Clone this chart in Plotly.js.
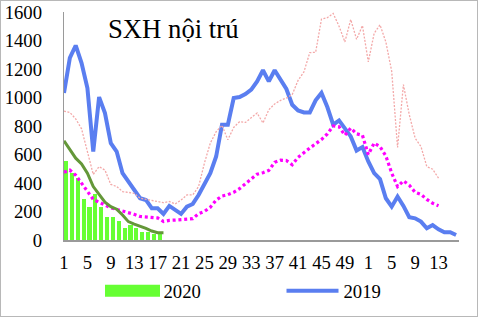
<!DOCTYPE html>
<html><head><meta charset="utf-8">
<script src="https://cdn.plot.ly/plotly-3.0.1.min.js"></script>
<style>
html,body{margin:0;padding:0;background:#fff}
#wrap{position:relative;width:479px;height:318px}
#chart{width:479px;height:318px}
#frame{position:absolute;left:0;top:0;width:476px;height:315px;border:1.5px solid #b8b8b8;pointer-events:none}
</style>
</head><body>
<div id="wrap"><div id="chart"></div><div id="frame"></div></div>
<script>
// week labels along the category axis (2019 weeks 1-52, then 2020 weeks 1-16)
var weeks = [1,2,3,4,5,6,7,8,9,10,11,12,13,14,15,16,17,18,19,20,21,22,23,24,25,26,
  27,28,29,30,31,32,33,34,35,36,37,38,39,40,41,42,43,44,45,46,47,48,49,50,51,52,
  1,2,3,4,5,6,7,8,9,10,11,12,13,14,15,16];

// 2020 inpatients (bars)
var bars2020 = [556,470,438,290,235,320,235,160,160,130,86,106,86,58,58,42,46];
// 2020 line (dark green)
var line2020 = [696,638,574,534,469,375,316,265,234,216,176,129,112,98,82,63,51,51];
// 2019 (blue)
var blue2019 = [1032,1278,1365,1242,1067,621,1003,891,680,621,469,410,352,293,281,223,223,183,
  239,211,183,234,253,316,387,469,586,809,809,996,1003,1024,1055,1113,1191,1113,1191,1120,
  1060,949,909,895,895,980,1032,933,809,839,778,727,628,652,551,469,427,293,234,305,239,160,
  152,129,82,105,75,54,54,35];
// average (magenta dotted)
var avgSeries = [475,490,455,395,335,285,265,245,225,215,205,195,180,165,160,160,155,130,138,
  140,142,145,150,185,200,230,280,308,318,335,360,395,430,462,472,488,545,560,558,528,580,615,
  645,675,705,745,800,795,735,785,745,735,600,680,655,590,470,375,415,385,335,320,285,258,240];
// maximum (light red dotted)
var maxSeries = [905,895,850,780,620,460,515,490,390,375,340,333,328,293,287,278,270,262,270,
  253,280,316,316,375,540,680,760,805,703,790,830,825,860,891,821,914,955,980,996,1020,1120,
  1180,1315,1317,1550,1560,1590,1500,1390,1547,1408,1505,1250,1450,1510,1390,1184,650,1090,
  880,715,656,515,497,434];

function idx(arr){ return arr.map(function(_, i){ return i; }); }
var tickvals = idx(weeks).filter(function(i){ return i % 4 === 0; });
var ticktext = tickvals.map(function(i){ return String(weeks[i]); });

var SERIF = 'Liberation Serif, Times New Roman, serif';

var data = [
  {type:'bar', name:'2020', x:idx(bars2020), y:bars2020, marker:{color:'#66ff33'},
   width:0.72, offset:0, showlegend:true, legend:'legend'},
  {type:'scatter', mode:'lines', name:'2019', x:idx(blue2019), y:blue2019,
   line:{color:'#5a7ef0', width:4}, legend:'legend2'},
  {type:'scatter', mode:'lines', name:'Max', x:idx(maxSeries), y:maxSeries,
   line:{color:'#f3a8a8', width:1.3, dash:'2px,1.5px'}, showlegend:false},
  {type:'scatter', mode:'lines', name:'TB', x:idx(avgSeries), y:avgSeries,
   line:{color:'#ff00ff', width:3.2, dash:'3px,2.8px'}, showlegend:false},
  {type:'scatter', mode:'lines', name:'2020 ', x:idx(line2020), y:line2020,
   line:{color:'#649739', width:3}, showlegend:false}
];

var legendBase = {orientation:'h', xref:'container', yref:'container', xanchor:'left', yanchor:'top',
  y:1-272/318, font:{size:18.7, family:SERIF, color:'#000'}, itemwidth:52,
  bgcolor:'rgba(0,0,0,0)', borderwidth:0};

var layout = {
  width:479, height:318,
  margin:{l:64, r:20, t:12, b:78, pad:0},
  paper_bgcolor:'#ffffff', plot_bgcolor:'#ffffff',
  font:{family:SERIF, size:18.7, color:'#000'},
  title:{text:'SXH nội trú', font:{size:26.7, family:SERIF, color:'#000'},
         x:108/479, xanchor:'left', xref:'container', y:1-29/318, yanchor:'middle', yref:'container'},
  xaxis:{range:[0,67.5], tickmode:'array', tickvals:tickvals, ticktext:ticktext, tickangle:0,
         tickfont:{family:SERIF, size:18.7, color:'#000'},
         showgrid:false, zeroline:false, showline:true, linecolor:'#9a9a9a', linewidth:1.5,
         ticks:'', ticklabelstandoff:5, fixedrange:true},
  yaxis:{range:[0,1600], dtick:200, showgrid:false, zeroline:false, showline:true,
         tickfont:{family:SERIF, size:18.7, color:'#000'},
         linecolor:'#9a9a9a', linewidth:1.2, ticks:'', ticklabelstandoff:17, fixedrange:true},
  bargap:0,
  showlegend:true,
  legend:Object.assign({}, legendBase, {x:101.5/479}),
  legend2:Object.assign({}, legendBase, {x:281.5/479})
};

Plotly.newPlot('chart', data, layout, {displayModeBar:false, staticPlot:true}).then(function(gd){
  // widen legend symbols to match the reference key shapes
  var pts = gd.querySelectorAll('.legend .legendpoints path');
  pts.forEach(function(p){
    var d = p.getAttribute('d') || '';
    if (d.indexOf('M6,6H-6V-6H6Z') === 0) { p.setAttribute('d', 'M-27.5,6H27.5V-6H-27.5Z'); }
  });
  var lines = gd.querySelectorAll('.legend path.js-line');
  lines.forEach(function(p){ p.setAttribute('d', 'M3,0h56'); });
});
</script>
</body></html>
